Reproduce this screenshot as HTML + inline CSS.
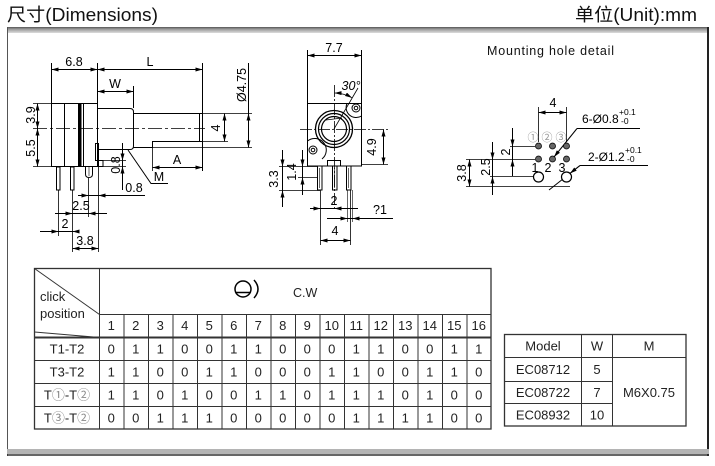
<!DOCTYPE html>
<html><head><meta charset="utf-8"><style>
html,body{margin:0;padding:0;background:#fff;width:715px;height:466px;overflow:hidden}
svg{display:block}
</style></head><body>
<svg width="715" height="466" viewBox="0 0 715 466" xmlns="http://www.w3.org/2000/svg" font-family="'Liberation Sans','Noto Sans CJK SC',sans-serif">
<defs>
<marker id="a" viewBox="0 0 7 4" refX="7" refY="2" markerWidth="7" markerHeight="4" orient="auto-start-reverse" markerUnits="userSpaceOnUse"><path d="M0,0 L7,2 L0,4z" fill="#000"/></marker>
<linearGradient id="gt" x1="0" y1="0" x2="0" y2="1"><stop offset="0" stop-color="#555"/><stop offset="0.35" stop-color="#999"/><stop offset="1" stop-color="#ddd"/></linearGradient>
</defs>
<rect width="715" height="466" fill="#fff"/>
<!-- header -->
<text x="7" y="21" font-size="18" textLength="151" lengthAdjust="spacingAndGlyphs" fill="#111">尺寸(Dimensions)</text>
<text x="575" y="21" font-size="18" textLength="122" lengthAdjust="spacingAndGlyphs" fill="#111">单位(Unit):mm</text>
<!-- frame -->
<rect x="7" y="27" width="702" height="6" fill="url(#gt)"/>
<line x1="7.5" y1="27" x2="7.5" y2="456" stroke="#555"/>
<line x1="708" y1="27" x2="708" y2="456" stroke="#222" stroke-width="2"/>
<rect x="7" y="449" width="702" height="5" fill="#b4b4b4"/>
<line x1="7" y1="455" x2="709" y2="455" stroke="#333" stroke-width="1.5"/>

<!-- LEFT DRAWING -->
<g stroke="#000" stroke-width="1" fill="none">
 <line x1="51.5" y1="63" x2="51.5" y2="103"/>
 <line x1="97.5" y1="63" x2="97.5" y2="103"/>
 <line x1="202.5" y1="63" x2="202.5" y2="171"/>
 <line x1="133.5" y1="86" x2="133.5" y2="108"/>
 <line x1="51.5" y1="69.5" x2="97.5" y2="69.5" marker-start="url(#a)" marker-end="url(#a)"/>
 <line x1="97.5" y1="69.5" x2="202.5" y2="69.5" marker-start="url(#a)" marker-end="url(#a)"/>
 <line x1="97.5" y1="91.5" x2="133.5" y2="91.5" marker-start="url(#a)" marker-end="url(#a)"/>
 <!-- body -->
 <rect x="51.5" y="103.5" width="46" height="63"/>
 <line x1="64.5" y1="103.5" x2="64.5" y2="166.5"/>
 <line x1="83.5" y1="103.5" x2="83.5" y2="166.5"/>
 <rect x="78" y="103.5" width="3.5" height="63" fill="#000" stroke="none"/>
 <!-- bushing -->
 <path d="M98,108.5 H130 Q133.5,108.5 133.5,112 V146 Q133.5,149.5 130,149.5 H98"/>
 <!-- shaft -->
 <path d="M133.5,113.5 H202.5 V141.5 H152.5 V147.5 H133.5"/>
 <line x1="199.5" y1="114" x2="199.5" y2="141"/>
 <line x1="152.5" y1="147.5" x2="252" y2="147.5" stroke-width="0.8"/>
 <line x1="202.5" y1="113.5" x2="252" y2="113.5" stroke-width="0.8"/>
 <line x1="202.5" y1="141.5" x2="228" y2="141.5" stroke-width="0.8"/>
 <line x1="152.5" y1="141.5" x2="152.5" y2="171" stroke-width="0.8"/>
 <line x1="224.5" y1="113.5" x2="224.5" y2="141.5" marker-start="url(#a)" marker-end="url(#a)"/>
 <line x1="248.5" y1="63" x2="248.5" y2="113.5"/>
 <line x1="248.5" y1="113.5" x2="248.5" y2="147.5" marker-start="url(#a)" marker-end="url(#a)"/>
 <line x1="152.5" y1="167.5" x2="202.5" y2="167.5" marker-start="url(#a)" marker-end="url(#a)"/>
 <!-- centre line -->
 <line x1="33" y1="128.5" x2="205" y2="128.5" stroke-width="0.8" stroke-dasharray="14 3 3 3"/>
 <!-- left dims -->
 <line x1="33" y1="103.5" x2="51" y2="103.5" stroke-width="0.8"/>
 <line x1="33" y1="166.5" x2="51" y2="166.5" stroke-width="0.8"/>
 <line x1="37.5" y1="103.5" x2="37.5" y2="128.5" marker-start="url(#a)" marker-end="url(#a)"/>
 <line x1="37.5" y1="128.5" x2="37.5" y2="166.5" marker-start="url(#a)" marker-end="url(#a)"/>
 <!-- tab, square, pins -->
 <rect x="95.5" y="143.5" width="3" height="17"/>
 <rect x="98.5" y="160.5" width="4.5" height="6"/>
 <rect x="56.5" y="167" width="3.5" height="23"/>
 <rect x="70.5" y="167" width="3.5" height="23"/>
 <path d="M85.5,167 V174 Q85.5,177.5 89,177.5 Q92.5,177.5 92.5,174 V167"/>
 <line x1="89" y1="167" x2="89" y2="176" stroke-width="0.6"/>
 <!-- M leader -->
 <path d="M128,150 L151,183.5 H168"/>
 <!-- vertical 0.8 -->
 <line x1="103" y1="160.5" x2="126" y2="160.5" stroke-width="0.8"/>
 <line x1="103" y1="166.5" x2="126" y2="166.5" stroke-width="0.8"/>
 <line x1="122.5" y1="143" x2="122.5" y2="190"/>
 <line x1="122.5" y1="148" x2="122.5" y2="160.5" marker-end="url(#a)"/>
 <line x1="122.5" y1="180" x2="122.5" y2="166.5" marker-end="url(#a)"/>
 <!-- ext lines bottom -->
 <line x1="58.5" y1="190" x2="58.5" y2="236" stroke-width="0.8"/>
 <line x1="72.5" y1="190" x2="72.5" y2="252" stroke-width="0.8"/>
 <line x1="88.5" y1="178" x2="88.5" y2="217" stroke-width="0.8"/>
 <line x1="98.5" y1="167" x2="98.5" y2="252" stroke-width="0.8"/>
 <!-- horizontal 0.8 -->
 <line x1="88.5" y1="195.5" x2="145" y2="195.5"/>
 <line x1="78" y1="195.5" x2="88.5" y2="195.5" marker-end="url(#a)"/>
 <line x1="110" y1="195.5" x2="98.5" y2="195.5" marker-end="url(#a)"/>
 <!-- 2.5 -->
 <line x1="55" y1="213.5" x2="107" y2="213.5"/>
 <line x1="60" y1="213.5" x2="72.5" y2="213.5" marker-end="url(#a)"/>
 <line x1="101" y1="213.5" x2="88.5" y2="213.5" marker-end="url(#a)"/>
 <!-- 2 -->
 <line x1="40" y1="231.5" x2="76" y2="231.5"/>
 <line x1="45" y1="231.5" x2="58.5" y2="231.5" marker-end="url(#a)"/>
 <line x1="76" y1="231.5" x2="72.5" y2="231.5" marker-end="url(#a)"/>
 <!-- 3.8 -->
 <line x1="72.5" y1="248.5" x2="98.5" y2="248.5" marker-start="url(#a)" marker-end="url(#a)"/>
</g>
<g font-size="12.5" fill="#000" text-anchor="middle">
 <text x="74" y="66">6.8</text>
 <text x="150" y="66">L</text>
 <text x="115" y="88">W</text>
 <text x="177" y="164">A</text>
 <text x="159" y="181">M</text>
 <text x="134" y="192">0.8</text>
 <text x="81" y="210">2.5</text>
 <text x="65" y="228">2</text>
 <text x="85" y="245">3.8</text>
 <text transform="translate(31,115) rotate(-90)" y="4">3.9</text>
 <text transform="translate(31,148) rotate(-90)" y="4">5.5</text>
 <text transform="translate(242,85) rotate(-90)" y="4">Ø4.75</text>
 <text transform="translate(216,128) rotate(-90)" y="4">4</text>
 <text transform="translate(116,165) rotate(-90)" y="4">0.8</text>
</g>

<!-- MIDDLE DRAWING -->
<g stroke="#000" stroke-width="1" fill="none">
 <line x1="307.5" y1="50" x2="307.5" y2="103"/>
 <line x1="361.5" y1="50" x2="361.5" y2="103"/>
 <line x1="307.5" y1="55.5" x2="361.5" y2="55.5" marker-start="url(#a)" marker-end="url(#a)"/>
 <rect x="307.5" y="103.5" width="54" height="62.5"/>
 <rect x="327.5" y="160.5" width="13" height="5.5"/>
 <circle cx="334" cy="129" r="18.5" stroke-width="1.3"/>
 <circle cx="334" cy="129" r="15.5" stroke-width="1.2"/>
 <circle cx="334" cy="129" r="12.5" stroke-width="1.2"/>
 <line x1="326" y1="120" x2="342" y2="118" stroke-width="0.8"/>
 <!-- holes -->
 <circle cx="356" cy="108" r="4"/>
 <circle cx="356" cy="108" r="1.8"/>
 <path d="M347,103.5 A10,10 0 0 0 361.5,116"/>
 <circle cx="313" cy="150" r="4"/>
 <circle cx="313" cy="150" r="1.8"/>
 <path d="M307.5,141 A10,10 0 0 1 322,159"/>
 <!-- centre lines -->
 <line x1="300" y1="129.5" x2="388" y2="129.5" stroke-width="0.8" stroke-dasharray="12 2 2 2"/>
 <line x1="334.5" y1="85" x2="334.5" y2="210" stroke-width="0.8" stroke-dasharray="12 2 2 2"/>
 <!-- 30 deg -->
 <line x1="334" y1="129" x2="358" y2="88" stroke-width="0.8"/>
 <path d="M334.5,93 A36,36 0 0 1 352,97.8" marker-end="url(#a)" marker-start="url(#a)" stroke-width="0.8"/>
 <!-- 4.9 -->
 <line x1="361.5" y1="164.5" x2="388" y2="164.5" stroke-width="0.8"/>
 <line x1="383.5" y1="129.5" x2="383.5" y2="164.5" marker-start="url(#a)" marker-end="url(#a)"/>
 <!-- pins -->
 <rect x="317.5" y="166" width="4.5" height="24"/>
 <rect x="332.5" y="166" width="4.5" height="24"/>
 <rect x="346.5" y="166" width="4.5" height="24"/>
 <line x1="319.7" y1="168" x2="319.7" y2="188" stroke-width="0.6"/>
 <line x1="334.7" y1="168" x2="334.7" y2="188" stroke-width="0.6"/>
 <line x1="348.7" y1="168" x2="348.7" y2="188" stroke-width="0.6"/>
 <!-- 3.3 / 1.4 -->
 <line x1="279" y1="166.5" x2="317" y2="166.5" stroke-width="0.8"/>
 <line x1="298" y1="177.5" x2="317" y2="177.5" stroke-width="0.8"/>
 <line x1="279" y1="190.5" x2="320" y2="190.5" stroke-width="0.8"/>
 <line x1="282.5" y1="150" x2="282.5" y2="207"/>
 <line x1="282.5" y1="155" x2="282.5" y2="166.5" marker-end="url(#a)"/>
 <line x1="282.5" y1="202" x2="282.5" y2="190.5" marker-end="url(#a)"/>
 <line x1="302.5" y1="150" x2="302.5" y2="195"/>
 <line x1="302.5" y1="155" x2="302.5" y2="166.5" marker-end="url(#a)"/>
 <line x1="302.5" y1="190" x2="302.5" y2="177.5" marker-end="url(#a)"/>
 <!-- bottom dims -->
 <line x1="320.5" y1="190" x2="320.5" y2="245" stroke-width="0.8"/>
 <line x1="350.5" y1="190" x2="350.5" y2="245" stroke-width="0.8"/>
 <line x1="347.5" y1="190" x2="347.5" y2="222" stroke-width="0.6"/>
 <line x1="352.5" y1="190" x2="352.5" y2="222" stroke-width="0.6"/>
 <line x1="310" y1="208.5" x2="358" y2="208.5"/>
 <line x1="310" y1="208.5" x2="320.5" y2="208.5" marker-end="url(#a)"/>
 <line x1="345" y1="208.5" x2="334.5" y2="208.5" marker-end="url(#a)"/>
 <line x1="327" y1="218.5" x2="393" y2="218.5"/>
 <line x1="335" y1="218.5" x2="347.5" y2="218.5" marker-end="url(#a)"/>
 <line x1="365" y1="218.5" x2="352.5" y2="218.5" marker-end="url(#a)"/>
 <line x1="320.5" y1="240.5" x2="350.5" y2="240.5" marker-start="url(#a)" marker-end="url(#a)"/>
</g>
<g font-size="12.5" fill="#000" text-anchor="middle">
 <text x="334" y="52">7.7</text>
 <text x="351" y="90" font-style="italic">30°</text>
 <text x="334" y="205">2</text>
 <text x="380" y="214">?1</text>
 <text x="335" y="235">4</text>
 <text transform="translate(372,147) rotate(-90)" y="4">4.9</text>
 <text transform="translate(274,179) rotate(-90)" y="4">3.3</text>
 <text transform="translate(292,172) rotate(-90)" y="4">1.4</text>
</g>

<!-- MOUNTING HOLE DETAIL -->
<text x="487" y="55" font-size="12.5" textLength="127" lengthAdjust="spacing" fill="#111">Mounting hole detail</text>
<g stroke="#000" stroke-width="1" fill="none">
 <line x1="538.5" y1="107" x2="538.5" y2="142" stroke-width="0.8"/>
 <line x1="566.5" y1="107" x2="566.5" y2="142" stroke-width="0.8"/>
 <line x1="538.5" y1="112.5" x2="566.5" y2="112.5" marker-start="url(#a)" marker-end="url(#a)"/>
 <!-- ext lines -->
 <line x1="510" y1="146.5" x2="535" y2="146.5" stroke-width="0.8"/>
 <line x1="466" y1="159.5" x2="535" y2="159.5" stroke-width="0.8"/>
 <line x1="490" y1="176.5" x2="533" y2="176.5" stroke-width="0.8"/>
 <line x1="466" y1="186.5" x2="570" y2="186.5" stroke-width="0.8"/>
 <!-- 2 -->
 <line x1="512.5" y1="128" x2="512.5" y2="176"/>
 <line x1="512.5" y1="134" x2="512.5" y2="146.5" marker-end="url(#a)"/>
 <line x1="512.5" y1="172" x2="512.5" y2="159.5" marker-end="url(#a)"/>
 <!-- 2.5 -->
 <line x1="492.5" y1="142" x2="492.5" y2="195"/>
 <line x1="492.5" y1="147" x2="492.5" y2="159.5" marker-end="url(#a)"/>
 <line x1="492.5" y1="190" x2="492.5" y2="176.5" marker-end="url(#a)"/>
 <!-- 3.8 -->
 <line x1="469.5" y1="159.5" x2="469.5" y2="186.5" marker-start="url(#a)" marker-end="url(#a)"/>
 <!-- leaders -->
 <path d="M640,128.5 H577"/>
 <line x1="577" y1="128.5" x2="554" y2="157" marker-end="url(#a)"/>
 <path d="M648,165.5 H580"/>
 <line x1="580" y1="165.5" x2="549" y2="190"/>
 <line x1="580" y1="165.5" x2="570" y2="173.4" marker-end="url(#a)"/>
</g>
<g stroke="#000" stroke-width="0.8" fill="#666">
 <circle cx="538.5" cy="146" r="3"/>
 <circle cx="552.5" cy="146" r="3"/>
 <circle cx="566.5" cy="146" r="3"/>
 <circle cx="538.5" cy="159" r="3"/>
 <circle cx="552.5" cy="159" r="3"/>
 <circle cx="566.5" cy="159" r="3"/>
</g>
<g stroke="#000" stroke-width="1.2" fill="#fff">
 <circle cx="538.5" cy="177" r="5"/>
 <circle cx="566.5" cy="177" r="5"/>
</g>
<g font-size="11" fill="#999" text-anchor="middle">
 <text x="533" y="141">①</text>
 <text x="547" y="141">②</text>
 <text x="561" y="141">③</text>
</g>
<g font-size="12.5" fill="#000" text-anchor="middle">
 <text x="553" y="107">4</text>
 <text x="535" y="172">1</text>
 <text x="548" y="172">2</text>
 <text x="562" y="172">3</text>
 <text transform="translate(506,152) rotate(-90)" y="4">2</text>
 <text transform="translate(486,167) rotate(-90)" y="4">2.5</text>
 <text transform="translate(462,173) rotate(-90)" y="4">3.8</text>
</g>
<g font-size="12" fill="#000">
 <text x="582" y="123">6-Ø0.8</text>
 <text x="619" y="115" font-size="8.5">+0.1</text>
 <text x="621" y="124" font-size="8.5">-0</text>
 <text x="588" y="161">2-Ø1.2</text>
 <text x="625" y="153" font-size="8.5">+0.1</text>
 <text x="627" y="162" font-size="8.5">-0</text>
</g>

<!-- MAIN TABLE -->
<g stroke="#333" stroke-width="1" fill="none">
 <rect x="34.5" y="268.5" width="456.5" height="160.5" stroke-width="1.3"/>
 <line x1="99.5" y1="268.5" x2="99.5" y2="429"/>
 <line x1="99.5" y1="314.5" x2="491" y2="314.5"/>
 <line x1="34.5" y1="337.5" x2="491" y2="337.5" stroke-width="2"/>
 <line x1="34.5" y1="360.5" x2="491" y2="360.5"/>
 <line x1="34.5" y1="383.5" x2="491" y2="383.5"/>
 <line x1="34.5" y1="406.5" x2="491" y2="406.5"/>
 <line x1="34.5" y1="268.5" x2="99.5" y2="314.5"/>
 <line x1="34.5" y1="332" x2="99.5" y2="337.5"/>
 <line x1="124" y1="314.5" x2="124" y2="429"/>
 <line x1="148.5" y1="314.5" x2="148.5" y2="429"/>
 <line x1="173" y1="314.5" x2="173" y2="429"/>
 <line x1="197.5" y1="314.5" x2="197.5" y2="429"/>
 <line x1="222" y1="314.5" x2="222" y2="429"/>
 <line x1="246.5" y1="314.5" x2="246.5" y2="429"/>
 <line x1="271" y1="314.5" x2="271" y2="429"/>
 <line x1="295.5" y1="314.5" x2="295.5" y2="429"/>
 <line x1="320" y1="314.5" x2="320" y2="429"/>
 <line x1="344.5" y1="314.5" x2="344.5" y2="429"/>
 <line x1="369" y1="314.5" x2="369" y2="429"/>
 <line x1="393.5" y1="314.5" x2="393.5" y2="429"/>
 <line x1="418" y1="314.5" x2="418" y2="429"/>
 <line x1="442.5" y1="314.5" x2="442.5" y2="429"/>
 <line x1="467" y1="314.5" x2="467" y2="429"/>
</g>
<!-- icon -->
<g stroke="#000" stroke-width="1.5" fill="none">
 <circle cx="243" cy="289" r="8"/>
 <line x1="236" y1="292.5" x2="250" y2="292.5"/>
 <path d="M254,280 Q262,289 254,298"/>
</g>
<g font-size="12.5" fill="#222">
 <text x="293" y="297">C.W</text>
 <text x="40" y="301" font-size="13">click</text>
 <text x="40" y="318" font-size="13">position</text>
</g>
<g font-size="13" fill="#222" text-anchor="middle">
 <text x="111.25" y="330">1</text><text x="135.75" y="330">2</text><text x="160.25" y="330">3</text><text x="184.75" y="330">4</text>
 <text x="209.25" y="330">5</text><text x="233.75" y="330">6</text><text x="258.25" y="330">7</text><text x="282.75" y="330">8</text>
 <text x="307.25" y="330">9</text><text x="331.75" y="330">10</text><text x="356.25" y="330">11</text><text x="380.75" y="330">12</text>
 <text x="405.25" y="330">13</text><text x="429.75" y="330">14</text><text x="454.25" y="330">15</text><text x="478.75" y="330">16</text>

 <text x="67" y="353.5">T1-T2</text>
 <text x="67" y="376.5">T3-T2</text>
 <text x="67" y="399.5">T<tspan fill="#888">①</tspan>-T<tspan fill="#888">②</tspan></text>
 <text x="67" y="422.5">T<tspan fill="#888">③</tspan>-T<tspan fill="#888">②</tspan></text>

 <!-- row 1: 0 1 1 0 0 1 1 0 0 0 1 1 0 0 1 1 -->
 <text x="111.25" y="353.5">0</text><text x="135.75" y="353.5">1</text><text x="160.25" y="353.5">1</text><text x="184.75" y="353.5">0</text>
 <text x="209.25" y="353.5">0</text><text x="233.75" y="353.5">1</text><text x="258.25" y="353.5">1</text><text x="282.75" y="353.5">0</text>
 <text x="307.25" y="353.5">0</text><text x="331.75" y="353.5">0</text><text x="356.25" y="353.5">1</text><text x="380.75" y="353.5">1</text>
 <text x="405.25" y="353.5">0</text><text x="429.75" y="353.5">0</text><text x="454.25" y="353.5">1</text><text x="478.75" y="353.5">1</text>
 <!-- row 2: 1 1 0 0 1 1 0 0 0 1 1 0 0 1 1 0 -->
 <text x="111.25" y="376.5">1</text><text x="135.75" y="376.5">1</text><text x="160.25" y="376.5">0</text><text x="184.75" y="376.5">0</text>
 <text x="209.25" y="376.5">1</text><text x="233.75" y="376.5">1</text><text x="258.25" y="376.5">0</text><text x="282.75" y="376.5">0</text>
 <text x="307.25" y="376.5">0</text><text x="331.75" y="376.5">1</text><text x="356.25" y="376.5">1</text><text x="380.75" y="376.5">0</text>
 <text x="405.25" y="376.5">0</text><text x="429.75" y="376.5">1</text><text x="454.25" y="376.5">1</text><text x="478.75" y="376.5">0</text>
 <!-- row 3: 1 1 0 1 0 0 1 1 0 1 1 1 0 1 0 0 -->
 <text x="111.25" y="399.5">1</text><text x="135.75" y="399.5">1</text><text x="160.25" y="399.5">0</text><text x="184.75" y="399.5">1</text>
 <text x="209.25" y="399.5">0</text><text x="233.75" y="399.5">0</text><text x="258.25" y="399.5">1</text><text x="282.75" y="399.5">1</text>
 <text x="307.25" y="399.5">0</text><text x="331.75" y="399.5">1</text><text x="356.25" y="399.5">1</text><text x="380.75" y="399.5">1</text>
 <text x="405.25" y="399.5">0</text><text x="429.75" y="399.5">1</text><text x="454.25" y="399.5">0</text><text x="478.75" y="399.5">0</text>
 <!-- row 4: 0 0 1 1 1 0 0 0 0 0 1 1 1 1 0 0 -->
 <text x="111.25" y="422.5">0</text><text x="135.75" y="422.5">0</text><text x="160.25" y="422.5">1</text><text x="184.75" y="422.5">1</text>
 <text x="209.25" y="422.5">1</text><text x="233.75" y="422.5">0</text><text x="258.25" y="422.5">0</text><text x="282.75" y="422.5">0</text>
 <text x="307.25" y="422.5">0</text><text x="331.75" y="422.5">0</text><text x="356.25" y="422.5">1</text><text x="380.75" y="422.5">1</text>
 <text x="405.25" y="422.5">1</text><text x="429.75" y="422.5">1</text><text x="454.25" y="422.5">0</text><text x="478.75" y="422.5">0</text>
</g>

<!-- RIGHT TABLE -->
<g stroke="#333" stroke-width="1" fill="none">
 <rect x="504.5" y="334.5" width="181.5" height="91.5" stroke-width="1.3"/>
 <line x1="581.5" y1="334.5" x2="581.5" y2="426"/>
 <line x1="612.5" y1="334.5" x2="612.5" y2="426"/>
 <line x1="504.5" y1="357.5" x2="686" y2="357.5"/>
 <line x1="504.5" y1="381.5" x2="612.5" y2="381.5"/>
 <line x1="504.5" y1="403.5" x2="612.5" y2="403.5"/>
</g>
<g font-size="13" fill="#222" text-anchor="middle">
 <text x="543" y="350.5">Model</text>
 <text x="597" y="350.5">W</text>
 <text x="649" y="350.5">M</text>
 <text x="543" y="374">EC08712</text>
 <text x="597" y="374">5</text>
 <text x="543" y="397">EC08722</text>
 <text x="597" y="397">7</text>
 <text x="543" y="419.5">EC08932</text>
 <text x="597" y="419.5">10</text>
 <text x="649" y="397">M6X0.75</text>
</g>
</svg>
</body></html>
